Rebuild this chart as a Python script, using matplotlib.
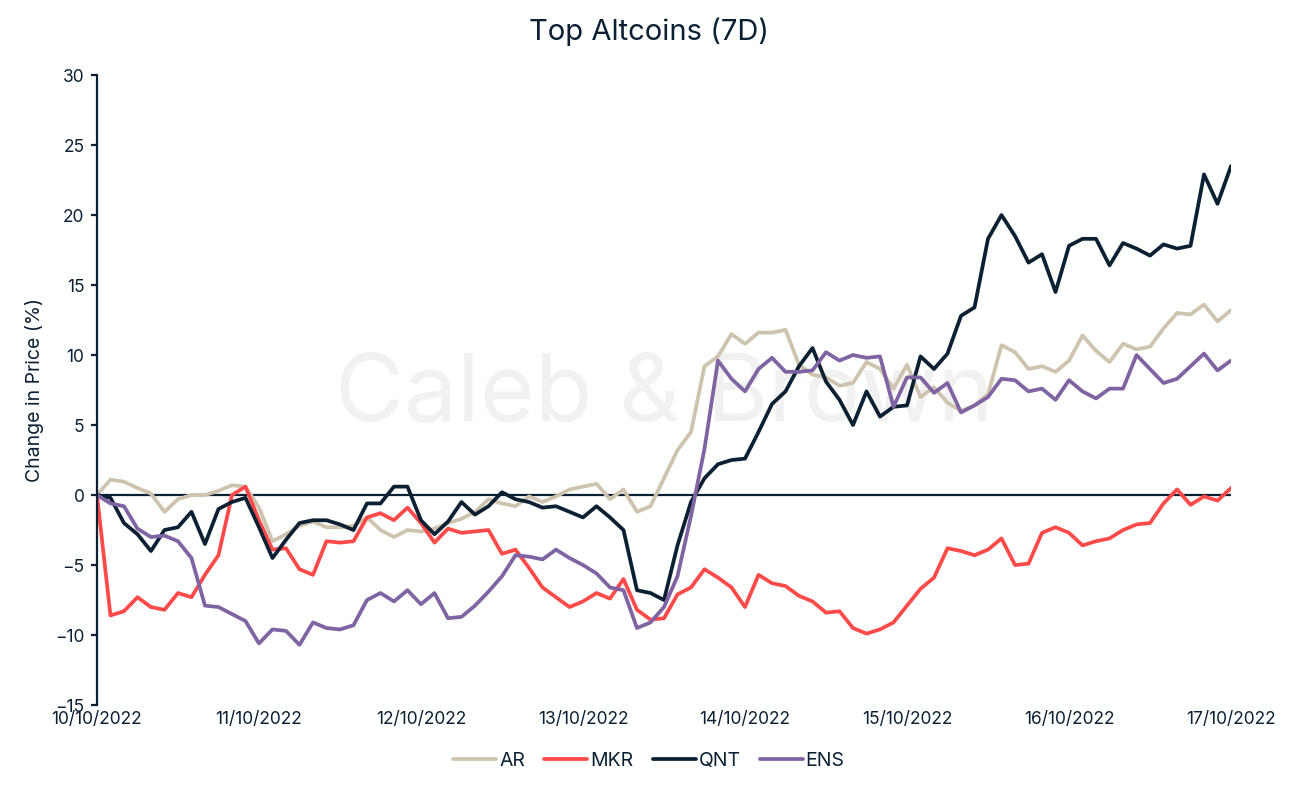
import matplotlib
matplotlib.use('Agg')
import matplotlib.pyplot as plt
import numpy as np

# hours since 10/10/2022 00:00, sampled every 2 hours
hours = list(range(0, 169, 2))
date_labels = ['10/10/2022', '11/10/2022', '12/10/2022', '13/10/2022',
               '14/10/2022', '15/10/2022', '16/10/2022', '17/10/2022']

ar = [0.0, 1.1, 0.95, 0.5, 0.1, -1.2, -0.3, 0.0, 0.0, 0.3, 0.7, 0.6,
      -0.9, -3.3, -2.8, -2.2, -1.9, -2.3, -2.3, -2.2, -1.6, -2.5, -3.0, -2.5,
      -2.6, -2.4, -2.0, -1.7, -1.2, -0.3, -0.6, -0.8, -0.1, -0.5, -0.1, 0.4,
      0.6, 0.8, -0.3, 0.4, -1.2, -0.8, 1.2, 3.2, 4.5, 9.2, 9.9, 11.5,
      10.8, 11.6, 11.6, 11.8, 9.3, 8.6, 8.4, 7.8, 8.0, 9.5, 9.0, 7.6,
      9.3, 7.0, 7.7, 6.6, 6.0, 6.4, 7.2, 10.7, 10.2, 9.0, 9.2, 8.8,
      9.6, 11.4, 10.3, 9.5, 10.8, 10.4, 10.6, 11.9, 13.0, 12.9, 13.6, 12.4,
      13.2]

mkr = [0.0, -8.6, -8.3, -7.3, -8.0, -8.2, -7.0, -7.3, -5.7, -4.3, 0.0, 0.6,
       -1.8, -3.9, -3.8, -5.3, -5.7, -3.3, -3.4, -3.3, -1.6, -1.3, -1.8, -0.9,
       -2.0, -3.4, -2.4, -2.7, -2.6, -2.5, -4.2, -3.9, -5.2, -6.6, -7.3, -8.0,
       -7.6, -7.0, -7.4, -6.0, -8.2, -8.9, -8.8, -7.1, -6.6, -5.3, -5.9, -6.6,
       -8.0, -5.7, -6.3, -6.5, -7.2, -7.6, -8.4, -8.3, -9.5, -9.9, -9.6, -9.1,
       -7.9, -6.7, -5.9, -3.8, -4.0, -4.3, -3.9, -3.1, -5.0, -4.9, -2.7, -2.3,
       -2.7, -3.6, -3.3, -3.1, -2.5, -2.1, -2.0, -0.6, 0.4, -0.7, -0.1, -0.4,
       0.5]

qnt = [0.0, -0.2, -2.0, -2.8, -4.0, -2.5, -2.3, -1.2, -3.5, -1.0, -0.5, -0.2,
       -2.3, -4.5, -3.2, -2.0, -1.8, -1.8, -2.1, -2.5, -0.6, -0.6, 0.6, 0.6,
       -1.8, -2.8, -1.9, -0.5, -1.4, -0.8, 0.2, -0.3, -0.5, -0.9, -0.8, -1.2,
       -1.6, -0.8, -1.6, -2.5, -6.8, -7.0, -7.5, -3.6, -0.5, 1.2, 2.2, 2.5,
       2.6, 4.5, 6.5, 7.4, 9.2, 10.5, 8.1, 6.8, 5.0, 7.4, 5.6, 6.3,
       6.4, 9.9, 9.0, 10.1, 12.8, 13.4, 18.3, 20.0, 18.5, 16.6, 17.2, 14.5,
       17.8, 18.3, 18.3, 16.4, 18.0, 17.6, 17.1, 17.9, 17.6, 17.8, 22.9, 20.8,
       23.5]

ens = [0.0, -0.6, -0.8, -2.4, -3.0, -2.9, -3.3, -4.5, -7.9, -8.0, -8.5, -9.0,
       -10.6, -9.6, -9.7, -10.7, -9.1, -9.5, -9.6, -9.3, -7.5, -7.0, -7.6, -6.8,
       -7.8, -7.0, -8.8, -8.7, -7.9, -6.9, -5.8, -4.3, -4.4, -4.6, -3.9, -4.5,
       -5.0, -5.6, -6.6, -6.8, -9.5, -9.1, -8.0, -5.8, -1.5, 3.3, 9.6, 8.3,
       7.4, 9.0, 9.8, 8.8, 8.8, 8.9, 10.2, 9.6, 10.0, 9.8, 9.9, 6.3,
       8.4, 8.4, 7.3, 8.0, 5.9, 6.4, 7.0, 8.3, 8.2, 7.4, 7.6, 6.8,
       8.2, 7.4, 6.9, 7.6, 7.6, 10.0, 9.0, 8.0, 8.3, 9.2, 10.1, 8.9,
       9.6]

navy = '#0B2033'
series = [('AR', ar, '#CEC3AE'), ('MKR', mkr, '#FF4A4A'),
          ('QNT', qnt, navy), ('ENS', ens, '#7F63A3')]

plt.rcParams['font.family'] = ['Inter', 'DejaVu Sans']

fig = plt.figure(figsize=(12.98, 7.92), dpi=100)
ax = fig.add_axes([0.0747, 0.1098, 0.8737, 0.7955])

# watermark
ax.text(0.5, 0.49, 'Caleb & Brown', transform=ax.transAxes, ha='center',
        va='center', fontsize=68, color='#F1F1F1', zorder=0)

ax.axhline(0, color=navy, lw=1.6, zorder=1)
for name, vals, col in series:
    ax.plot(hours, vals, color=col, lw=2.7, label=name,
            solid_joinstyle='round', solid_capstyle='round', zorder=2)

ax.set_xlim(0, 168)
ax.set_ylim(-15, 30)
ax.set_yticks(np.arange(-15, 31, 5))
ax.set_xticks(range(0, 169, 24))
ax.set_xticklabels(date_labels)

for s in ['top', 'right', 'bottom']:
    ax.spines[s].set_visible(False)
ax.spines['left'].set_color(navy)
ax.spines['left'].set_linewidth(1.6)
ax.tick_params(axis='y', colors=navy, length=4, width=1.6, labelsize=12.5, pad=5)
ax.tick_params(axis='x', colors=navy, length=0, labelsize=12.5, pad=4)

ax.set_ylabel('Change in Price (%)', fontsize=14, color=navy, labelpad=8)
# title and legend are centred on the whole figure, not the axes
fig.text(0.5, 0.96, 'Top Altcoins (7D)', ha='center', va='center',
         fontsize=21, color=navy)

handles, labels = ax.get_legend_handles_labels()
fig.legend(handles, labels, loc='center', bbox_to_anchor=(0.5, 1 - 761 / 792),
           ncol=4, frameon=False, fontsize=14, handlelength=2.2,
           handletextpad=0.15, columnspacing=1.0, labelcolor=navy)

fig.savefig('out.png', dpi=100)
